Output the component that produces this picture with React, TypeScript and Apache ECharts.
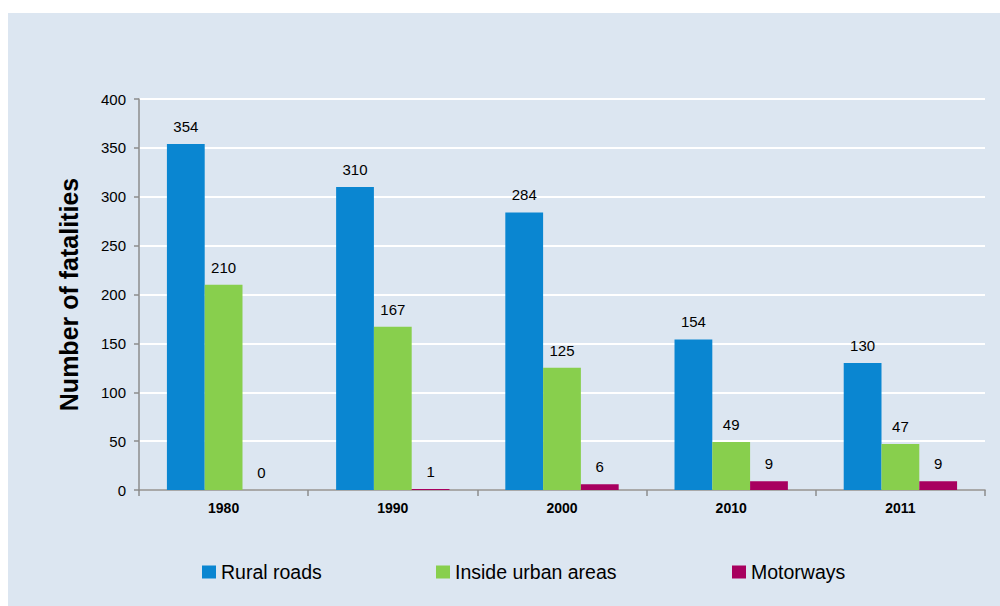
import React, { useEffect, useRef } from "react";
import * as echarts from "echarts";

const categories = ["1980", "1990", "2000", "2010", "2011"];
const ruralRoads = [354, 310, 284, 154, 130];
const urbanAreas = [210, 167, 125, 49, 47];
const motorways = [0, 1, 6, 9, 9];
const seriesNames = ["Rural roads", "Inside urban areas", "Motorways"];
const colors = ["#0A86D1", "#88CF4D", "#A8005F"];

const FONT = "'Liberation Sans Narrow', 'Arial Narrow', 'Liberation Sans', Arial, sans-serif";

export default function App() {
  const ref = useRef<HTMLDivElement>(null);
  useEffect(() => {
    if (!ref.current) return;
    const chart = echarts.init(ref.current, undefined, { renderer: "svg" });
    const dataSets = [ruralRoads, urbanAreas, motorways];
    const legendLefts = [189, 423, 719];
    chart.setOption({
      animation: false,
      backgroundColor: "#DCE6F1",
      textStyle: { fontFamily: FONT },
      grid: { left: 131, right: 15, top: 86, bottom: 116, containLabel: false },
      legend: seriesNames.map((n, i) => ({
        data: [n],
        left: legendLefts[i],
        top: 544,
        icon: "rect",
        itemWidth: 14,
        itemHeight: 13,
        textStyle: { fontFamily: FONT, fontSize: 19.5, color: "#000" },
        selectedMode: false,
      })),
      xAxis: {
        type: "category",
        data: categories,
        axisLine: { lineStyle: { color: "#8C8C8C", width: 1.5 } },
        axisTick: { show: true, length: 6, lineStyle: { color: "#8C8C8C", width: 1.5 } },
        axisLabel: { fontFamily: FONT, fontSize: 14, fontWeight: "bold", color: "#000", margin: 11 },
      },
      yAxis: {
        type: "value",
        min: 0,
        max: 400,
        interval: 50,
        name: "Number of fatalities",
        nameLocation: "middle",
        nameGap: 58,
        nameTextStyle: { fontFamily: FONT, fontSize: 25, fontWeight: "bold", color: "#000" },
        axisLine: { show: true, lineStyle: { color: "#8C8C8C", width: 1.5 } },
        axisTick: { show: true, length: 5, lineStyle: { color: "#8C8C8C", width: 1.5 } },
        axisLabel: { fontFamily: FONT, fontSize: 15, color: "#000", margin: 13 },
        splitLine: { lineStyle: { color: "#FFFFFF", width: 2 } },
      },
      series: seriesNames.map((n, i) => ({
        name: n,
        type: "bar",
        data: dataSets[i],
        barGap: "0%",
        barCategoryGap: "33%",
        itemStyle: { color: colors[i] },
        label: {
          show: true,
          position: "top",
          distance: 10,
          fontFamily: FONT,
          fontSize: 15,
          color: "#000",
        },
      })),
    });
    return () => chart.dispose();
  }, []);
  return (
    <div style={{ position: "absolute", left: 0, top: 0, width: 1000, height: 606, background: "#fff" }}>
      <div ref={ref} style={{ position: "absolute", left: 8, top: 13, width: 992, height: 593 }} />
    </div>
  );
}
